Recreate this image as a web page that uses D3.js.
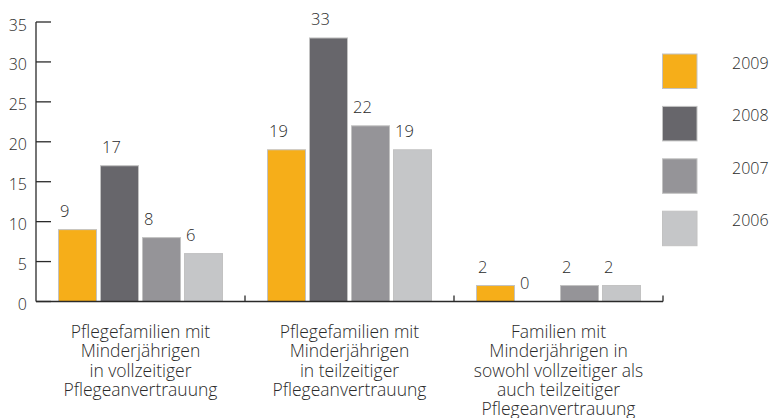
<!DOCTYPE html>
<html><head><meta charset="utf-8">
<script src="https://cdn.jsdelivr.net/npm/d3@7"></script>
<style>
html,body{margin:0;padding:0;background:#fff;}
svg{display:block;font-family:"Open Sans",sans-serif;}
</style></head>
<body><svg id="chart" width="774" height="418"></svg>
<script>
const categories = [
  ["Pflegefamilien mit","Minderjährigen","in vollzeitiger","Pflegeanvertrauung"],
  ["Pflegefamilien mit","Minderjährigen","in teilzeitiger","Pflegeanvertrauung"],
  ["Familien mit","Minderjährigen in","sowohl vollzeitiger als","auch teilzeitiger","Pflegeanvertrauung"]
];
const years = ["2009","2008","2007","2006"];
const values2009 = [9, 19, 2];
const values2008 = [17, 33, 0];
const values2007 = [8, 22, 2];
const values2006 = [6, 19, 2];
const yTicks = [0,5,10,15,20,25,30,35];
const colors = ["#F6AE19","#67666B","#959498","#C5C6C8"];

const series = [values2009, values2008, values2007, values2006];
const svg = d3.select("#chart");
const ink = "#2a2a2a";

const catIdx = categories.map((c,i)=>i);
const x0 = d3.scaleBand().domain(catIdx).range([36, 663]);
const x1 = d3.scaleBand().domain(years).range([22.5, 186.5]).paddingInner(4/42);
const y = d3.scaleLinear().domain([0,35]).range([301.5, 22]);

// bars
catIdx.forEach(ci => {
  const g = svg.append("g").attr("transform", `translate(${x0(ci)},0)`);
  years.forEach((yr, si) => {
    const v = series[si][ci];
    if (v > 0) {
      g.append("rect")
        .attr("x", x1(yr)).attr("y", y(v))
        .attr("width", x1.bandwidth()).attr("height", y(0) - y(v))
        .attr("fill", colors[si]).attr("stroke", "#c2c2c2").attr("stroke-width", 1);
    }
    g.append("text")
      .attr("x", x1(yr) + 1.5).attr("y", y(v) - 13)
      .attr("font-size", 16.5).attr("font-weight", 300).attr("fill", ink).text(v);
  });
});

// y axis
const yAxis = svg.append("g");
yAxis.append("line").attr("x1",36).attr("x2",36).attr("y1",y(35)).attr("y2",y(0)).attr("stroke",ink).attr("stroke-width",1.3);
yTicks.forEach(t => {
  yAxis.append("line").attr("x1",36).attr("x2",51).attr("y1",y(t)).attr("y2",y(t)).attr("stroke",ink).attr("stroke-width",1.3);
  yAxis.append("text").attr("x",27).attr("y",y(t)+8.5).attr("text-anchor","end")
    .attr("font-size",16).attr("font-weight",300).attr("fill",ink).text(t);
});

// x axis
const xAxis = svg.append("g");
xAxis.append("line").attr("x1",36).attr("x2",663).attr("y1",y(0)).attr("y2",y(0)).attr("stroke",ink).attr("stroke-width",1.3);
catIdx.forEach(ci => {
  const xe = x0(ci) + x0.bandwidth();
  xAxis.append("line").attr("x1",xe).attr("x2",xe).attr("y1",y(0)-6).attr("y2",y(0)).attr("stroke",ink).attr("stroke-width",1.3);
  const t = xAxis.append("text").attr("text-anchor","middle").attr("font-size",17.5)
    .attr("font-weight",300).attr("fill",ink);
  categories[ci].forEach((line, li) => {
    t.append("tspan").attr("x", x0(ci) + x0.bandwidth()/2).attr("y", 338 + li*19.3).text(line);
  });
});

// legend
const legend = svg.append("g");
years.forEach((yr, i) => {
  const ly = 54 + i*52.4;
  legend.append("rect").attr("x",662.5).attr("y",ly).attr("width",34.5).attr("height",34.5)
    .attr("fill",colors[i]).attr("stroke","#c2c2c2").attr("stroke-width",1);
  legend.append("text").attr("x",732).attr("y",ly+15).attr("font-size",16)
    .attr("font-weight",300).attr("fill",ink).text(yr);
});
</script></body></html>
